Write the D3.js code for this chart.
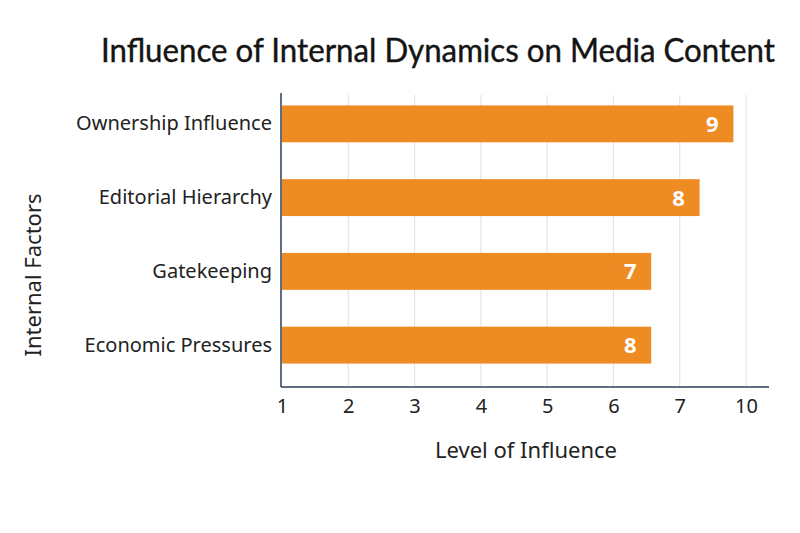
<!DOCTYPE html>
<html>
<head>
<meta charset="utf-8">
<script src="https://cdn.jsdelivr.net/npm/d3@7"></script>
<style>
  body { margin: 0; background: #fff; }
  svg { font-family: "Noto Sans", "Open Sans", sans-serif; }
</style>
</head>
<body>
<div id="chart"></div>
<script>
// data
const factors = ["Ownership Influence", "Editorial Hierarchy", "Gatekeeping", "Economic Pressures"];
const barEnds = [7.81, 7.30, 6.57, 6.57];   // where each bar stops on the axis
const barLabels = ["9", "8", "7", "8"];      // numbers printed inside bars
const tickLabels = ["1", "2", "3", "4", "5", "6", "7", "10"];

const width = 800, height = 533;

const svg = d3.select("#chart").append("svg")
    .attr("width", width)
    .attr("height", height);

const x = d3.scaleLinear()
    .domain([1, 8])
    .range([282, 746]);

const y = d3.scaleBand()
    .domain(factors)
    .range([87, 382])
    .paddingInner(0.5)
    .paddingOuter(0.25);

// gridlines
svg.append("g")
    .selectAll("line")
    .data(d3.range(2, 9))
    .enter().append("line")
    .attr("x1", d => x(d))
    .attr("x2", d => x(d))
    .attr("y1", 95)
    .attr("y2", 387)
    .attr("stroke", "#e4e4e4")
    .attr("stroke-width", 1.2);

// bars
svg.append("g")
    .selectAll("rect")
    .data(factors)
    .enter().append("rect")
    .attr("x", x(1))
    .attr("y", d => y(d))
    .attr("width", (d, i) => x(barEnds[i]) - x(1))
    .attr("height", y.bandwidth())
    .attr("fill", "#ee8b22");

svg.append("g")
    .selectAll("text")
    .data(factors)
    .enter().append("text")
    .attr("x", (d, i) => x(barEnds[i]) - 21)
    .attr("y", d => y(d) + y.bandwidth() / 2)
    .attr("dy", "0.36em")
    .attr("text-anchor", "middle")
    .attr("fill", "#fff")
    .attr("font-weight", "bold")
    .attr("font-size", 22)
    .text((d, i) => barLabels[i]);

// axes
const xAxis = d3.axisBottom(x)
    .tickValues(d3.range(1, 9))
    .tickFormat((d, i) => tickLabels[i])
    .tickSize(0)
    .tickPadding(12);

const gx = svg.append("g")
    .attr("transform", "translate(0,387)")
    .call(xAxis);
gx.select(".domain").remove();
gx.selectAll("text")
    .attr("font-family", "\"Noto Sans\", sans-serif")
    .attr("font-size", 20)
    .attr("fill", "#222");

svg.append("line")
    .attr("x1", 281).attr("x2", 769)
    .attr("y1", 387).attr("y2", 387)
    .attr("stroke", "#2d3e55")
    .attr("stroke-width", 1.5);

const yAxis = d3.axisLeft(y)
    .tickSize(0)
    .tickPadding(9);

const gy = svg.append("g")
    .attr("transform", "translate(281,0)")
    .call(yAxis);
gy.select(".domain").remove();
gy.selectAll("text")
    .attr("font-family", "\"Noto Sans\", sans-serif")
    .attr("font-size", 20)
    .attr("fill", "#222");

svg.append("line")
    .attr("x1", 281).attr("x2", 281)
    .attr("y1", 93).attr("y2", 387)
    .attr("stroke", "#2d3e55")
    .attr("stroke-width", 1.5);

// titles - Lato is narrower, closer to the condensed look of the original
svg.append("text")
    .attr("x", 438)
    .attr("y", 62)
    .attr("text-anchor", "middle")
    .attr("font-family", "Lato, sans-serif")
    .attr("font-size", 32)
    .attr("fill", "#141414")
    .attr("stroke", "#141414")
    .attr("stroke-width", 0.4)
    .attr("textLength", 674)
    .attr("lengthAdjust", "spacingAndGlyphs")
    .text("Influence of Internal Dynamics on Media Content");

svg.append("text")
    .attr("x", 526)
    .attr("y", 458)
    .attr("text-anchor", "middle")
    .attr("font-size", 22)
    .attr("fill", "#222")
    .text("Level of Influence");

svg.append("text")
    .attr("transform", "translate(41,275) rotate(-90)")
    .attr("text-anchor", "middle")
    .attr("font-size", 22)
    .attr("fill", "#222")
    .text("Internal Factors");
</script>
</body>
</html>
